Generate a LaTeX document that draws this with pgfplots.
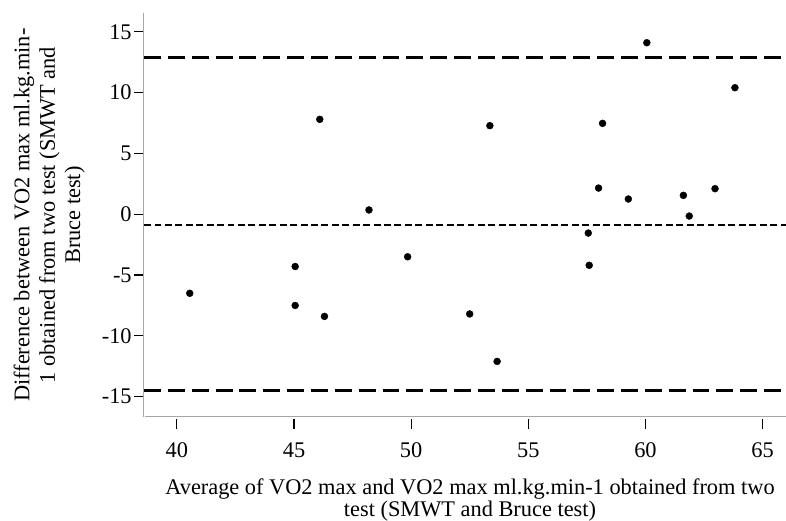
\documentclass[border=0pt]{standalone}
\usepackage{pgfplots}
\pgfplotsset{compat=1.18}
\usepackage{fontspec}
\setmainfont{Liberation Serif}
\begin{document}
\newcommand{\fs}{\fontsize{22.5bp}{22bp}\selectfont}
\newcommand{\fsy}{\fontsize{22.5bp}{25.5bp}\selectfont}
\begin{tikzpicture}
\useasboundingbox (-140bp,-104bp) rectangle (646bp,420bp);
\begin{axis}[
  scale only axis,
  width=646bp, height=407bp,
  xmin=38.6, xmax=66.0,
  ymin=-16.7, ymax=16.55,
  axis x line*=bottom, axis y line*=left,
  axis line style={gray!70, line width=0.5bp, double distance=0.8bp},
  xtick={40,45,...,65}, ytick={-15,-10,...,15},
  tick align=outside,
  major tick length=10bp,
  tick style={black, line width=1.2bp},
  xtick style={yshift=-2bp},
  ticklabel style={font=\fs},
  /pgf/number format/assume math mode=true,
  yticklabel style={xshift=1bp},
  xticklabel style={yshift=-12bp},
  xlabel={Average of VO2 max and VO2 max ml.kg.min-1 obtained from two\\test (SMWT and Bruce test)},
  ylabel={Difference between VO2 max ml.kg.min-\\1 obtained from two test (SMWT and\\Bruce test)},
  xlabel style={font=\fs, align=center, at={(axis description cs:0.5,0)}, anchor=north, yshift=-58bp, xshift=5bp},
  ylabel style={font=\fsy, align=center, at={(axis description cs:0,0.5)}, anchor=south, yshift=56bp},
  clip=false,
]
% limits of agreement and mean difference
\addplot[black, line width=2.8bp, dash pattern=on 17bp off 7bp] coordinates {(38.6,12.88) (66.0,12.88)};
\addplot[black, line width=2.8bp, dash pattern=on 17bp off 7bp] coordinates {(38.6,-14.49) (66.0,-14.49)};
\addplot[black, line width=2.5bp, dash pattern=on 7bp off 3.5bp] coordinates {(38.6,-0.9) (66.0,-0.9)};
% observations
\addplot[only marks, mark=*, mark size=3.5bp, black] coordinates {
  (40.55,-6.5) (45.05,-4.3) (45.05,-7.5) (46.3,-8.4) (46.1,7.8)
  (48.2,0.35) (49.85,-3.5) (52.5,-8.2) (53.67,-12.1) (53.36,7.28)
  (58.17,7.47) (58.0,2.15) (57.56,-1.55) (57.6,-4.2) (60.06,14.1)
  (59.27,1.25) (61.62,1.55) (61.87,-0.15) (62.97,2.1) (63.82,10.4)
};
\end{axis}
\end{tikzpicture}
\end{document}
